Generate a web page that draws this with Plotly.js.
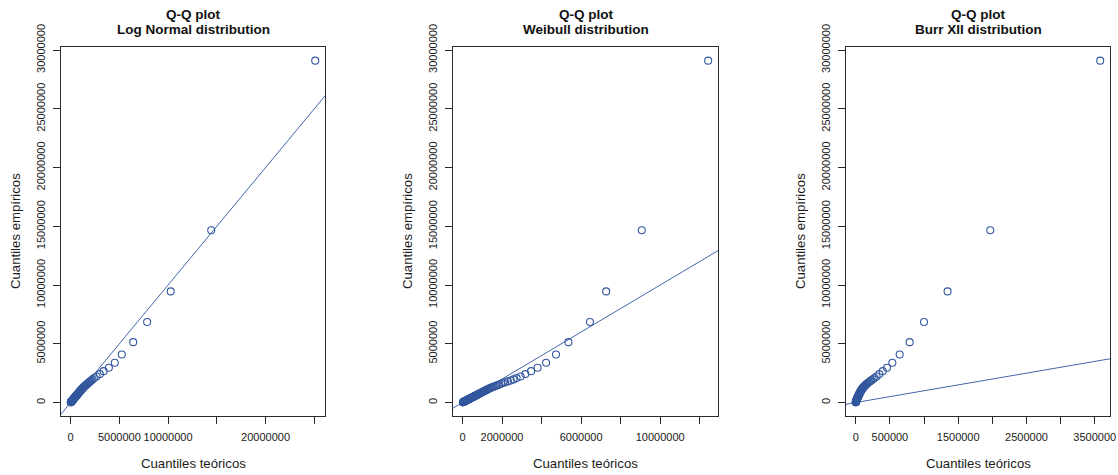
<!DOCTYPE html>
<html><head><meta charset="utf-8">
<script src="https://cdn.plot.ly/plotly-3.0.1.min.js"></script>
<style>html,body{margin:0;padding:0;background:#fff}#chart{width:1118px;height:475px}</style>
</head><body><div id="chart"></div>
<script>
// Empirical quantiles (sorted, descending) and theoretical quantiles of each fitted distribution
const empirical = [29100000,14660000,9460000,6860000,5140000,4090000,3390000,2960000,2670000,2420000,
 2210000,2080000,1970000,1880000,1800000,1730000,1660000,1600000,1540000,1480000,1430000,1380000,1330000,
 1290000,1250000,1210000,1170000,1135000,1100000,1062000,1030000,998000,968000,938000,907000,879000,851000,
 822000,794000,768000,741000,716000,692000,668000,645000,622000,601000,579000,559000,538000,518000,499000,
 480000,461000,443000,425000,407000,390000,373000,356000,340000,324000,308000,292000,277000,262000,247000,
 232000,218000,204000,190000,176000,162000,149000,136000,123000,110000,97000,85000,73000,61000,49000,38000,27000,16000];
const theoLogNormal = [25100000,14430000,10270000,7850000,6420000,5250000,4530000,3920000,3380000,3000000,
 2660000,2420000,2250000,2120000,2000000,1900000,1810000,1720000,1640000,1560000,1490000,1430000,1370000,
 1320000,1270000,1230000,1190000,1150000,1110000,1075000,1040000,1005000,972000,940000,910000,880000,851000,
 823000,796000,770000,744000,719000,695000,671000,648000,625000,603000,582000,561000,541000,521000,501000,
 482000,463000,445000,427000,409000,392000,375000,358000,341000,325000,309000,293000,277000,262000,247000,
 232000,217000,203000,189000,175000,161000,148000,134000,121000,108000,95000,83000,71000,59000,47000,36000,25000,14000];
const theoWeibull = [12430000,9070000,7270000,6450000,5360000,4730000,4230000,3800000,3470000,3180000,
 2940000,2740000,2580000,2440000,2300000,2160000,2050000,1950000,1860000,1780000,1700000,1630000,1560000,
 1490000,1430000,1380000,1330000,1290000,1250000,1205000,1170000,1130000,1095000,1060000,1025000,993000,961000,
 928000,896000,866000,836000,807000,780000,753000,727000,701000,677000,652000,629000,606000,583000,561000,
 540000,518000,498000,478000,457000,438000,419000,400000,381000,363000,345000,327000,310000,293000,276000,
 259000,243000,227000,212000,196000,180000,165000,151000,136000,121000,107000,93000,80000,67000,54000,41000,29000,17000];
const theoBurr = [3580000,1970000,1345000,1000000,790000,643000,536000,458000,395000,345000,
 305000,274000,248000,226000,207000,191000,177000,164000,153000,143000,134000,126000,118000,
 112000,106000,101000,96000,91500,87500,83500,80000,76500,73500,70500,67500,65000,62500,
 60000,57500,55300,53100,51000,49000,47000,45100,43300,41500,39800,38100,36500,34900,33400,
 31900,30500,29100,27700,26400,25100,23800,22600,21400,20200,19100,18000,16900,15800,14800,
 13800,12800,11800,10900,10000,9100,8200,7400,6600,5800,5000,4300,3600,2900,2200,1600,1000,500];

const mainTitle = "Q-Q plot";
const panelTitles = ["Log Normal distribution", "Weibull distribution", "Burr XII distribution"];
const xAxisTitle = "Cuantiles teóricos";
const yAxisTitle = "Cuantiles empíricos";
const yTickVals = [0,5000000,10000000,15000000,20000000,25000000,30000000];
const yTickText = ["0","5000000","10000000","15000000","20000000","25000000","30000000"];
const xTickVals = [
  [0,5000000,10000000,15000000,20000000,25000000],
  [0,2000000,4000000,6000000,8000000,10000000,12000000],
  [0,500000,1000000,1500000,2000000,2500000,3000000,3500000]
];
const xTickText = [
  ["0","5000000","10000000","","20000000",""],
  ["0","2000000","","6000000","","10000000",""],
  ["0","500000","","1500000","","2500000","","3500000"]
];
const theoretical = [theoLogNormal, theoWeibull, theoBurr];

const W = 1118, H = 475;
const boxes = [[61,325],[453,718],[846,1110]];
const boxTop = 47, boxBottom = 416;
const markerColor = "#34589E";
const lineColor = "#4266AA";
const font = "Liberation Sans, Arial, sans-serif";

function padRange(arr){
  const mn = Math.min(...arr), mx = Math.max(...arr), d = mx - mn;
  return [mn - 0.04*d, mx + 0.04*d];
}

const data = [], annotations = [], layout = {
  width: W, height: H, margin: {l:0,r:0,t:0,b:0},
  paper_bgcolor: "#fff", plot_bgcolor: "#fff", showlegend: false,
  font: {family: font, color: "#1a1a1a"}
};
const yDom = [(H - boxBottom)/H, (H - boxTop)/H];
const yr = padRange(empirical);

for (let i = 0; i < 3; i++) {
  const sfx = i === 0 ? "" : String(i+1);
  const xr = padRange(theoretical[i]);
  const lo = Math.min(xr[0], yr[0]), hi = Math.max(xr[1], yr[1]);
  data.push({
    type: "scatter", mode: "lines", x: [lo, hi], y: [lo, hi],
    xaxis: "x"+sfx, yaxis: "y"+sfx, line: {color: lineColor, width: 1}, hoverinfo: "skip"
  });
  data.push({
    type: "scatter", mode: "markers", x: theoretical[i], y: empirical,
    xaxis: "x"+sfx, yaxis: "y"+sfx,
    marker: {symbol: "circle-open", size: 7, color: markerColor, line: {width: 1.1, color: markerColor}},
    cliponaxis: false
  });
  const ax = {
    showline: true, mirror: true, linecolor: "#2a2a2a", linewidth: 1,
    ticks: "outside", ticklen: 7, tickwidth: 1, tickcolor: "#2a2a2a",
    showgrid: false, zeroline: false,
    tickfont: {family: font, size: 11, color: "#1a1a1a"}
  };
  layout["xaxis"+sfx] = Object.assign({}, ax, {
    domain: [boxes[i][0]/W, boxes[i][1]/W], range: xr, anchor: "y"+sfx,
    tickmode: "array", tickvals: xTickVals[i], ticktext: xTickText[i], ticklabelstandoff: 4
  });
  layout["yaxis"+sfx] = Object.assign({}, ax, {
    domain: yDom, range: yr, anchor: "x"+sfx,
    tickmode: "array", tickvals: yTickVals, ticktext: yTickText, tickangle: -90, ticklabelstandoff: 4
  });
  const cx = (boxes[i][0] + boxes[i][1]) / 2 / W;
  annotations.push({text: "<b>"+mainTitle+"</b>", x: cx, y: (H-14)/H, xref: "paper", yref: "paper",
    showarrow: false, xanchor: "center", yanchor: "middle", font: {family: font, size: 13.5, color: "#111"}});
  annotations.push({text: "<b>"+panelTitles[i]+"</b>", x: cx, y: (H-30)/H, xref: "paper", yref: "paper",
    showarrow: false, xanchor: "center", yanchor: "middle", font: {family: font, size: 13.5, color: "#111"}});
  annotations.push({text: xAxisTitle, x: cx, y: (H-463)/H, xref: "paper", yref: "paper",
    showarrow: false, xanchor: "center", yanchor: "middle", font: {family: font, size: 13.2, color: "#1a1a1a"}});
  annotations.push({text: yAxisTitle, x: (boxes[i][0]-46)/W, y: (H-231)/H, xref: "paper", yref: "paper",
    textangle: -90, showarrow: false, xanchor: "center", yanchor: "middle", font: {family: font, size: 13.2, color: "#1a1a1a"}});
}
layout.annotations = annotations;
Plotly.newPlot("chart", data, layout, {staticPlot: true, displayModeBar: false});
</script></body></html>
